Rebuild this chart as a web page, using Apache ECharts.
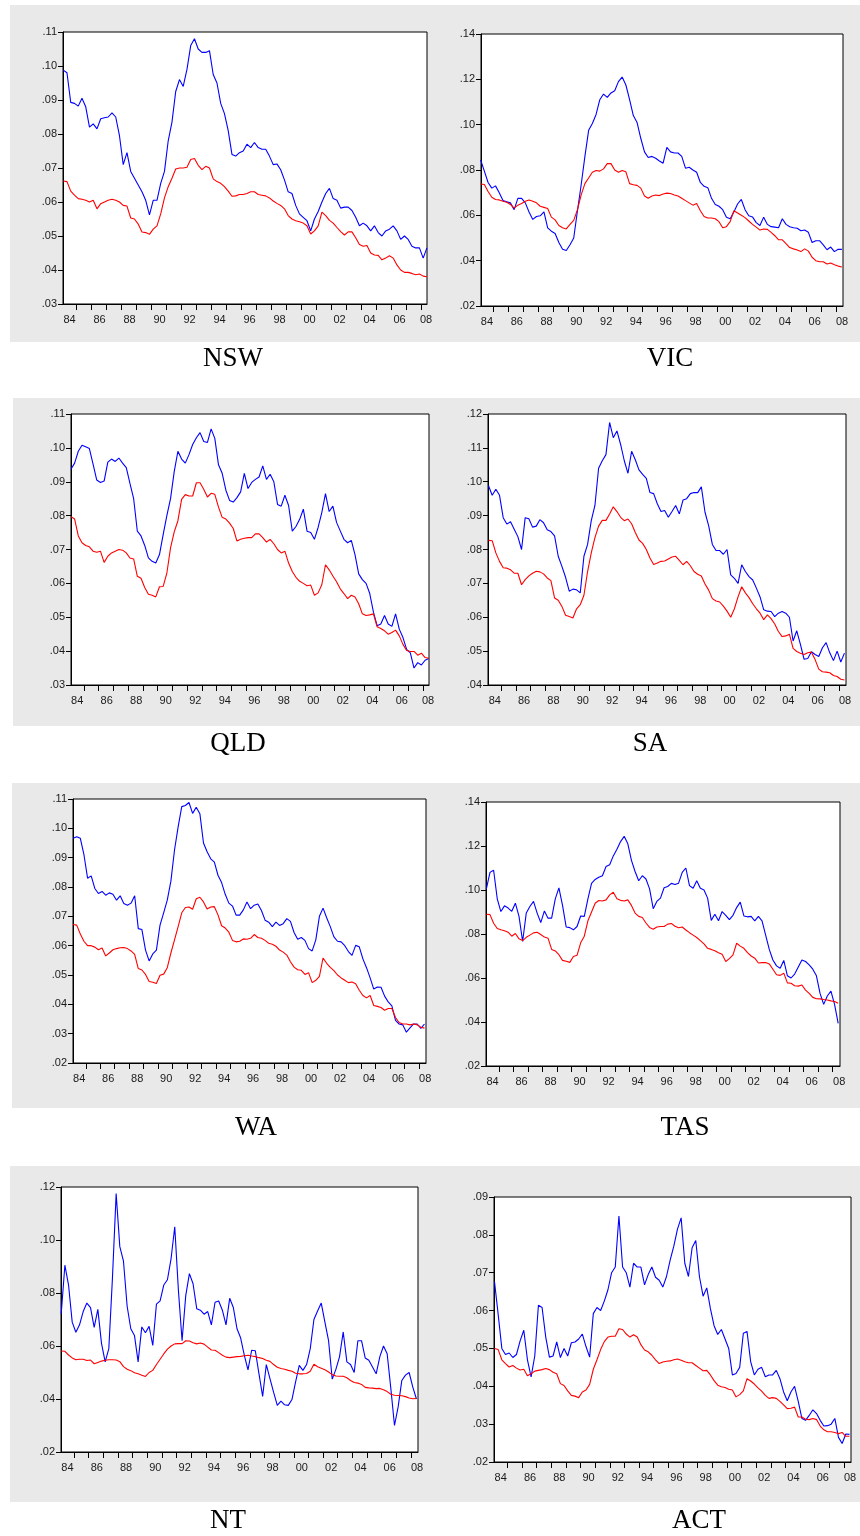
<!DOCTYPE html>
<html><head><meta charset="utf-8">
<script src="https://cdn.jsdelivr.net/npm/echarts@6/dist/echarts.min.js"></script>
<style>
html,body{margin:0;padding:0;background:#fff;}
#wrap{position:relative;width:860px;height:1536px;overflow:hidden;}
.band{position:absolute;background:#e9e9e9;}
#chart{position:absolute;left:0;top:0;width:860px;height:1536px;}
</style></head><body>
<div id="wrap">
<div class="band" style="left:10px;top:5px;width:850px;height:337px"></div>
<div class="band" style="left:13px;top:398px;width:847px;height:328px"></div>
<div class="band" style="left:12px;top:783px;width:848px;height:325px"></div>
<div class="band" style="left:10px;top:1166px;width:850px;height:336px"></div>
<div id="chart"></div>
</div>
<script>
// quarterly observation dates, 1984Q1 .. 2008Q2
const quarters = [];
for (let y = 1984; y <= 2008; y++) for (let q = 1; q <= 4; q++) if (quarters.length < 98) quarters.push(y + '-Q' + q);

const tickYears = [1985,1986,1987,1988,1989,1990,1991,1992,1993,1994,1995,1996,1997,1998,1999,2000,2001,2002,2003,2004,2005,2006,2007,2008];
const labelYears = [1984,1986,1988,1990,1992,1994,1996,1998,2000,2002,2004,2006,2008];
const stateNames = ['NSW','VIC','QLD','SA','WA','TAS','NT','ACT'];

const nswBlue = [.0988,.0980,.0893,.0890,.0882,.0905,.0880,.0820,.0830,.0815,
.0845,.0848,.0850,.0862,.0850,.0795,.0710,.0745,.0690,.0670,
.0650,.0630,.0605,.0562,.0605,.0605,.0655,.0690,.0780,.0835,
.0925,.0960,.0940,.0990,.1060,.1080,.1050,.1040,.1040,.1045,
.0975,.0950,.0890,.0860,.0810,.0740,.0735,.0745,.0750,.0770,
.0760,.0775,.0760,.0755,.0755,.0735,.0710,.0712,.0695,.0665,
.0630,.0625,.0590,.0565,.0555,.0545,.0515,.0550,.0572,.0600,
.0625,.0640,.0610,.0605,.0582,.0585,.0585,.0575,.0555,.0530,
.0538,.0530,.0515,.0530,.0510,.0500,.0515,.0520,.0530,.0515,
.0490,.0500,.0490,.0470,.0465,.0465,.0435,.0465];
const nswRed = [.0662,.0660,.0632,.0620,.0610,.0608,.0605,.0600,.0605,.0580,
.0595,.0600,.0605,.0608,.0605,.0600,.0590,.0588,.0553,.0550,
.0535,.0512,.0510,.0505,.0520,.0530,.0565,.0612,.0645,.0670,
.0697,.0700,.0700,.0702,.0725,.0728,.0708,.0695,.0705,.0700,
.0668,.0660,.0655,.0645,.0632,.0617,.0618,.0622,.0622,.0625,
.0630,.0630,.0622,.0620,.0618,.0612,.0603,.0596,.0590,.0580,
.0560,.0550,.0545,.0542,.0538,.0530,.0506,.0515,.0530,.0570,
.0560,.0546,.0538,.0525,.0513,.0503,.0512,.0512,.0495,.0475,
.0470,.0472,.0450,.0444,.0443,.0430,.0435,.0442,.0435,.0415,
.0400,.0393,.0393,.0390,.0386,.0388,.0382,.0380];

const vicBlue = [.0845,.0795,.0745,.0720,.0730,.0700,.0665,.0660,.0655,.0625,
.0675,.0675,.0655,.0615,.0582,.0595,.0598,.0615,.0545,.0530,
.0520,.0480,.0450,.0445,.0470,.0500,.0620,.0735,.0860,.0975,
.1005,.1045,.1110,.1135,.1120,.1140,.1150,.1190,.1210,.1175,
.1110,.1040,.1010,.0940,.0880,.0855,.0860,.0852,.0840,.0830,
.0900,.0880,.0875,.0875,.0860,.0808,.0812,.0800,.0790,.0745,
.0728,.0722,.0675,.0648,.0640,.0625,.0592,.0585,.0615,.0650,
.0670,.0625,.0598,.0593,.0568,.0555,.0592,.0560,.0550,.0548,
.0545,.0585,.0560,.0550,.0545,.0543,.0532,.0535,.0525,.0480,
.0488,.0488,.0470,.0448,.0460,.0440,.0450,.0450];
const vicRed = [.0738,.0736,.0705,.0680,.0670,.0668,.0662,.0658,.0648,.0632,
.0645,.0652,.0662,.0668,.0662,.0655,.0640,.0635,.0630,.0592,
.0580,.0555,.0545,.0540,.0560,.0578,.0625,.0690,.0740,.0765,
.0790,.0798,.0795,.0805,.0828,.0828,.0800,.0790,.0798,.0792,
.0740,.0735,.0732,.0720,.0685,.0675,.0685,.0690,.0687,.0694,
.0698,.0696,.0690,.0685,.0675,.0665,.0655,.0645,.0652,.0620,
.0595,.0588,.0588,.0585,.0572,.0545,.0550,.0572,.0620,.0610,
.0600,.0590,.0575,.0560,.0548,.0535,.0540,.0538,.0525,.0510,
.0492,.0492,.0475,.0458,.0452,.0447,.0440,.0452,.0442,.0415,
.0400,.0395,.0395,.0385,.0390,.0382,.0376,.0372];

const qldBlue = [.0937,.0955,.0990,.1008,.1003,.0998,.0952,.0905,.0898,.0902,
.0958,.0967,.0960,.0970,.0955,.0942,.0895,.0850,.0754,.0740,
.0712,.0675,.0665,.0660,.0685,.0744,.0800,.0850,.0930,.0990,
.0967,.0955,.0980,.1010,.1030,.1045,.1019,.1016,.1056,.1028,
.0950,.0925,.0875,.0845,.0840,.0853,.0870,.0925,.0880,.0898,
.0907,.0914,.0947,.0907,.0922,.0900,.0833,.0828,.0860,.0830,
.0754,.0768,.0789,.0819,.0754,.0750,.0730,.0765,.0809,.0865,
.0812,.0828,.0780,.0755,.0730,.0720,.0727,.0685,.0628,.0611,
.0600,.0570,.0515,.0475,.0480,.0505,.0480,.0473,.0510,.0465,
.0440,.0405,.0395,.0350,.0366,.0359,.0373,.0378];
const qldRed = [.0797,.0790,.0740,.0720,.0712,.0708,.0695,.0692,.0695,.0662,
.0680,.0690,.0695,.0700,.0698,.0690,.0675,.0672,.0621,.0615,
.0588,.0568,.0565,.0560,.0590,.0591,.0630,.0705,.0752,.0785,
.0848,.0862,.0858,.0858,.0897,.0897,.0878,.0855,.0866,.0863,
.0825,.0795,.0790,.0778,.0762,.0725,.0730,.0733,.0735,.0735,
.0746,.0746,.0735,.0722,.0730,.0717,.0700,.0690,.0695,.0660,
.0635,.0618,.0606,.0600,.0593,.0595,.0565,.0572,.0596,.0655,
.0640,.0622,.0605,.0584,.0570,.0555,.0565,.0560,.0540,.0510,
.0505,.0507,.0510,.0472,.0467,.0460,.0450,.0455,.0462,.0445,
.0420,.0402,.0399,.0399,.0388,.0394,.0381,.0379];

const saBlue = [.0988,.0960,.0978,.0960,.0894,.0875,.0882,.0860,.0838,.0800,
.0894,.0891,.0866,.0869,.0888,.0879,.0858,.0853,.0840,.0780,
.0750,.0718,.0677,.0683,.0681,.0672,.0780,.0815,.0885,.0930,
.1040,.1062,.1080,.1175,.1130,.1150,.1110,.1062,.1025,.1090,
.1065,.1035,.1022,.1010,.0968,.0965,.0935,.0912,.0915,.0895,
.0912,.0930,.0905,.0946,.0950,.0965,.0968,.0968,.0985,.0910,
.0870,.0815,.0797,.0797,.0786,.0800,.0725,.0715,.0700,.0755,
.0735,.0720,.0710,.0686,.0660,.0622,.0618,.0617,.0602,.0612,
.0617,.0612,.0600,.0530,.0560,.0520,.0476,.0478,.0498,.0490,
.0484,.0510,.0525,.0495,.0472,.0500,.0468,.0494];
const saRed = [.0827,.0826,.0790,.0765,.0746,.0745,.0740,.0730,.0730,.0696,
.0711,.0722,.0730,.0736,.0734,.0728,.0716,.0708,.0657,.0650,
.0632,.0606,.0602,.0598,.0625,.0637,.0665,.0735,.0790,.0835,
.0869,.0886,.0886,.0905,.0926,.0912,.0895,.0885,.0890,.0876,
.0850,.0828,.0818,.0800,.0775,.0756,.0760,.0765,.0766,.0772,
.0778,.0780,.0768,.0755,.0765,.0752,.0735,.0727,.0722,.0698,
.0680,.0655,.0648,.0645,.0633,.0618,.0600,.0625,.0660,.0690,
.0672,.0658,.0640,.0625,.0612,.0593,.0607,.0596,.0580,.0558,
.0543,.0545,.0550,.0508,.0499,.0494,.0490,.0495,.0497,.0475,
.0447,.0439,.0438,.0436,.0428,.0425,.0417,.0415];

const waBlue = [.0966,.0971,.0966,.0910,.0830,.0838,.0795,.0778,.0785,.0772,
.0780,.0775,.0755,.0770,.0744,.0738,.0745,.0770,.0658,.0655,
.0585,.0548,.0572,.0585,.0670,.0712,.0755,.0820,.0926,.1005,
.1074,.1078,.1088,.1051,.1072,.1050,.0950,.0920,.0896,.0885,
.0840,.0815,.0775,.0745,.0735,.0704,.0704,.0722,.0749,.0726,
.0738,.0742,.0720,.0687,.0680,.0665,.0680,.0669,.0675,.0692,
.0683,.0645,.0622,.0628,.0618,.0590,.0582,.0620,.0700,.0728,
.0695,.0665,.0630,.0615,.0613,.0600,.0580,.0567,.0601,.0596,
.0555,.0525,.0490,.0452,.0459,.0458,.0428,.0408,.0395,.0345,
.0333,.0330,.0305,.0320,.0333,.0333,.0318,.0333];
const waRed = [.0672,.0670,.0640,.0615,.0600,.0600,.0595,.0586,.0592,.0565,
.0575,.0586,.0590,.0593,.0594,.0590,.0582,.0570,.0522,.0517,
.0502,.0478,.0475,.0471,.0499,.0503,.0525,.0575,.0620,.0665,
.0712,.0730,.0732,.0724,.0760,.0765,.0749,.0725,.0732,.0733,
.0705,.0668,.0660,.0646,.0618,.0613,.0615,.0623,.0622,.0625,
.0638,.0628,.0625,.0618,.0608,.0605,.0598,.0585,.0578,.0568,
.0545,.0527,.0518,.0516,.0502,.0508,.0474,.0482,.0495,.0558,
.0540,.0526,.0515,.0500,.0490,.0482,.0474,.0476,.0470,.0448,
.0430,.0422,.0430,.0396,.0393,.0389,.0380,.0386,.0386,.0355,
.0338,.0333,.0333,.0330,.0333,.0330,.0322,.0319];

const tasBlue = [.1005,.1080,.1090,.0960,.0902,.0928,.0918,.0903,.0940,.0880,
.0766,.0895,.0925,.0948,.0895,.0852,.0905,.0872,.0872,.0960,
.1010,.0930,.0832,.0829,.0819,.0834,.0882,.0880,.0960,.1030,
.1048,.1058,.1065,.1107,.1115,.1155,.1185,.1220,.1244,.1210,
.1135,.1084,.1042,.1065,.1050,.1005,.0915,.0948,.0963,.1010,
.1016,.1030,.1025,.1031,.1080,.1100,.1020,.1008,.1042,.1008,
.1000,.0963,.0862,.0890,.0860,.0902,.0885,.0865,.0885,.0920,
.0945,.0882,.0878,.0880,.0860,.0880,.0860,.0795,.0730,.0682,
.0655,.0644,.0680,.0610,.0600,.0618,.0650,.0682,.0675,.0660,
.0640,.0610,.0530,.0480,.0518,.0540,.0480,.0394];
const tasRed = [.0890,.0888,.0849,.0825,.0819,.0815,.0808,.0790,.0802,.0778,
.0770,.0785,.0795,.0805,.0808,.0798,.0786,.0781,.0730,.0723,
.0706,.0680,.0676,.0671,.0698,.0703,.0760,.0790,.0860,.0900,
.0940,.0952,.0950,.0955,.0978,.0990,.0960,.0953,.0950,.0955,
.0930,.0895,.0880,.0875,.0850,.0830,.0822,.0832,.0834,.0834,
.0845,.0848,.0835,.0828,.0832,.0818,.0806,.0795,.0784,.0770,
.0755,.0735,.0730,.0724,.0715,.0708,.0675,.0688,.0705,.0758,
.0745,.0735,.0715,.0700,.0690,.0668,.0670,.0670,.0664,.0640,
.0615,.0612,.0622,.0578,.0576,.0565,.0563,.0568,.0545,.0530,
.0512,.0506,.0505,.0502,.0500,.0496,.0493,.0485];

const ntBlue = [.0722,.0905,.0830,.0690,.0652,.0680,.0730,.0762,.0745,.0670,
.0738,.0610,.0540,.0590,.0860,.1175,.0975,.0920,.0750,.0665,
.0640,.0540,.0672,.0650,.0674,.0602,.0758,.0770,.0830,.0850,
.0930,.1050,.0810,.0620,.0790,.0873,.0835,.0741,.0735,.0720,
.0730,.0680,.0765,.0770,.0735,.0680,.0780,.0745,.0665,.0630,
.0565,.0510,.0584,.0582,.0495,.0410,.0530,.0477,.0425,.0376,
.0392,.0378,.0376,.0398,.0465,.0527,.0508,.0530,.0590,.0700,
.0732,.0762,.0690,.0620,.0475,.0512,.0560,.0653,.0540,.0530,
.0500,.0620,.0620,.0555,.0546,.0521,.0495,.0560,.0600,.0571,
.0440,.0300,.0370,.0470,.0490,.0500,.0445,.0400];
const ntRed = [.0581,.0580,.0566,.0555,.0548,.0550,.0550,.0545,.0547,.0533,
.0538,.0543,.0546,.0548,.0548,.0547,.0541,.0522,.0512,.0507,
.0499,.0495,.0490,.0485,.0500,.0508,.0530,.0550,.0570,.0588,
.0600,.0608,.0609,.0609,.0620,.0619,.0612,.0608,.0611,.0607,
.0596,.0585,.0584,.0575,.0565,.0558,.0556,.0558,.0560,.0561,
.0563,.0565,.0562,.0560,.0556,.0553,.0546,.0542,.0530,.0520,
.0515,.0512,.0508,.0505,.0497,.0495,.0495,.0496,.0505,.0531,
.0522,.0516,.0510,.0502,.0492,.0487,.0486,.0486,.0480,.0470,
.0462,.0460,.0455,.0444,.0442,.0441,.0439,.0440,.0435,.0428,
.0418,.0414,.0413,.0412,.0409,.0404,.0401,.0402];

const actBlue = [.0676,.0590,.0500,.0484,.0488,.0476,.0484,.0520,.0548,.0470,
.0425,.0480,.0614,.0608,.0530,.0477,.0480,.0517,.0476,.0500,
.0480,.0515,.0517,.0525,.0538,.0505,.0477,.0592,.0608,.0600,
.0625,.0655,.0700,.0715,.0850,.0715,.0700,.0662,.0725,.0715,
.0715,.0668,.0695,.0715,.0688,.0680,.0662,.0690,.0733,.0770,
.0815,.0845,.0725,.0690,.0766,.0785,.0690,.0638,.0660,.0605,
.0560,.0537,.0550,.0525,.0500,.0430,.0434,.0450,.0540,.0545,
.0465,.0430,.0445,.0450,.0425,.0430,.0430,.0442,.0420,.0385,
.0362,.0385,.0400,.0360,.0315,.0310,.0323,.0338,.0328,.0310,
.0295,.0296,.0300,.0315,.0265,.0249,.0274,.0273];
const actRed = [.0500,.0497,.0470,.0460,.0451,.0455,.0448,.0443,.0445,.0428,
.0433,.0440,.0442,.0444,.0447,.0444,.0437,.0433,.0407,.0402,
.0388,.0376,.0374,.0370,.0385,.0390,.0405,.0445,.0470,.0497,
.0518,.0530,.0532,.0532,.0552,.0550,.0538,.0530,.0536,.0530,
.0510,.0496,.0491,.0482,.0470,.0460,.0464,.0466,.0467,.0470,
.0472,.0469,.0465,.0462,.0462,.0455,.0448,.0441,.0442,.0430,
.0415,.0403,.0399,.0397,.0392,.0390,.0372,.0378,.0388,.0420,
.0414,.0406,.0396,.0387,.0376,.0368,.0370,.0368,.0360,.0351,
.0341,.0342,.0345,.0319,.0319,.0313,.0312,.0315,.0312,.0295,
.0285,.0280,.0280,.0278,.0275,.0278,.0268,.0268];

// y-axis scales (min, max, step) per state
const yScales = [[.03,.11,.01],[.02,.14,.02],[.03,.11,.01],[.04,.12,.01],[.02,.11,.01],[.02,.14,.02],[.02,.12,.02],[.02,.09,.01]];
const blueSeries = [nswBlue, vicBlue, qldBlue, saBlue, waBlue, tasBlue, ntBlue, actBlue];
const redSeries = [nswRed, vicRed, qldRed, saRed, waRed, tasRed, ntRed, actRed];

// layout (page pixels)
const layout = [
  {l:63, t:32,  w:364, h:272, x0:1984.11, x1:2008.38, tx:233, ty:359},
  {l:481,t:34,  w:362, h:272, x0:1984.15, x1:2008.45, tx:670, ty:359},
  {l:71, t:414, w:358, h:271, x0:1984.13, x1:2008.39, tx:238, ty:744},
  {l:488,t:414, w:358, h:271, x0:1984.09, x1:2008.48, tx:650, ty:744},
  {l:73, t:799, w:353, h:264, x0:1984.12, x1:2008.48, tx:256, ty:1128},
  {l:486,t:802, w:354, h:264, x0:1984.10, x1:2008.50, tx:685, ty:1128},
  {l:61, t:1187,w:357, h:265, x0:1984.11, x1:2008.48, tx:228, ty:1521},
  {l:494,t:1197,w:357, h:265, x0:1984.09, x1:2008.48, tx:699, ty:1521}
];

function qToYear(s){ const p = s.split('-Q'); return +p[0] + (+p[1]-1)/4 + 0.125; }
const tvals = quarters.map(qToYear);

const grids = [], xAxes = [], yAxes = [], series = [], graphics = [];
const lblFont = {fontSize: 11, color: '#1a1a1a', fontFamily: 'Liberation Sans, Arial, sans-serif'};
layout.forEach((L, i) => {
  grids.push({left:L.l, top:L.t, width:L.w, height:L.h, show:true, borderColor:'#000', borderWidth:1, backgroundColor:'#fff'});
  xAxes.push({
    type:'value', gridIndex:i, min:L.x0, max:L.x1,
    axisLine:{show:true, onZero:false, lineStyle:{color:'#000', width:1}},
    axisTick:{show:true, length:6, lineStyle:{color:'#000', width:1}, customValues: tickYears},
    axisLabel:Object.assign({margin:10, customValues: labelYears.map(y => Math.min(y + 0.55, L.x1 - 0.06)),
      formatter: v => String(Math.floor(v + 1e-6)).slice(2)}, lblFont),
    splitLine:{show:false}
  });
  const s = yScales[i];
  yAxes.push({
    type:'value', gridIndex:i, min:s[0], max:s[1], interval:s[2],
    axisLine:{show:true, onZero:false, lineStyle:{color:'#000', width:1}},
    axisTick:{show:true, length:5, lineStyle:{color:'#000', width:1}},
    axisLabel:Object.assign({margin:6, formatter: v => v.toFixed(2).replace(/^0/, '')}, lblFont),
    splitLine:{show:false}
  });
  series.push({type:'line', xAxisIndex:i, yAxisIndex:i, data:tvals.map((t,k)=>[t, blueSeries[i][k]]),
    showSymbol:false, symbol:'none', lineStyle:{color:'#0000ff', width:1.1}, itemStyle:{color:'#0000ff'}, silent:true, animation:false});
  series.push({type:'line', xAxisIndex:i, yAxisIndex:i, data:tvals.map((t,k)=>[t, redSeries[i][k]]),
    showSymbol:false, symbol:'none', lineStyle:{color:'#ff0000', width:1.1}, itemStyle:{color:'#ff0000'}, silent:true, animation:false});
  graphics.push({type:'text', x:L.tx, y:L.ty, silent:true,
    style:{text: stateNames[i], fill:'#000', font:'27px "Liberation Serif", "Times New Roman", serif', align:'center', verticalAlign:'middle'}});
});

const chart = echarts.init(document.getElementById('chart'), null, {renderer:'canvas', width:860, height:1536});
chart.setOption({
  backgroundColor:'transparent',
  animation:false,
  grid:grids, xAxis:xAxes, yAxis:yAxes, series:series, graphic:graphics
});
</script>
</body></html>
